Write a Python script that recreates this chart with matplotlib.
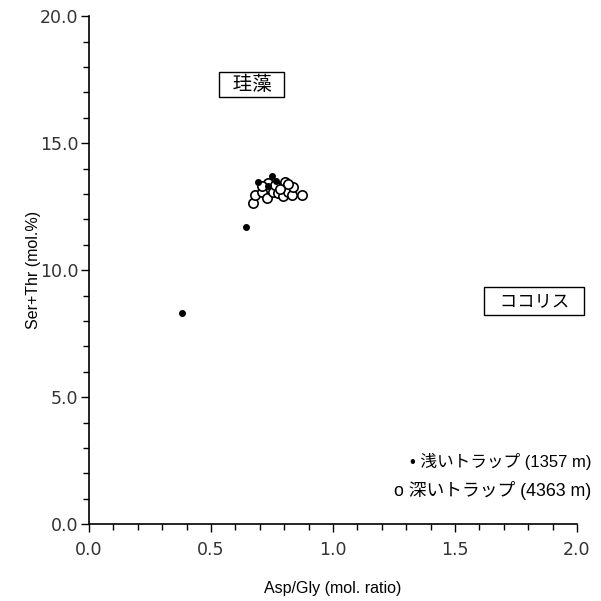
import matplotlib.pyplot as plt
from matplotlib.ticker import MultipleLocator, FormatStrFormatter

# shallow trap (1357 m), filled dots
shallow_x = [0.381, 0.643, 0.693, 0.750, 0.765, 0.735]
shallow_y = [8.31, 11.69, 13.46, 13.70, 13.50, 13.30]

# deep trap (4363 m), open circles
deep_x = [0.672, 0.680, 0.709, 0.730, 0.734, 0.754, 0.762, 0.775, 0.795,
          0.803, 0.795, 0.816, 0.832, 0.836, 0.873, 0.709, 0.815, 0.782]
deep_y = [12.64, 12.95, 13.07, 12.83, 13.43, 13.07, 13.35, 13.03, 13.23,
          13.46, 12.91, 13.07, 12.95, 13.27, 12.95, 13.31, 13.40, 13.20]

jp = ["Liberation Sans", "Noto Sans CJK JP"]

fig = plt.figure(figsize=(6.01, 6.01), dpi=100)
ax = fig.add_axes([0.148, 0.128, 0.812, 0.845])

ax.scatter(deep_x, deep_y, s=45, facecolor="white", edgecolor="black",
           linewidth=1.2, zorder=3)
ax.scatter(shallow_x, shallow_y, s=16, color="black", zorder=4)

ax.set_xlim(0, 2.0)
ax.set_ylim(0, 20.0)
ax.xaxis.set_major_locator(MultipleLocator(0.5))
ax.xaxis.set_minor_locator(MultipleLocator(0.1))
ax.yaxis.set_major_locator(MultipleLocator(5))
ax.yaxis.set_minor_locator(MultipleLocator(1))
ax.xaxis.set_major_formatter(FormatStrFormatter("%.1f"))
ax.yaxis.set_major_formatter(FormatStrFormatter("%.1f"))
ax.tick_params(which="major", direction="out", length=6, width=1,
               labelsize=12.5, labelcolor="#333333")
ax.tick_params(axis="x", which="major", pad=6)
ax.tick_params(axis="y", which="major", pad=1.5)
ax.tick_params(which="minor", direction="out", length=4, width=1)
for lab in ax.get_xticklabels() + ax.get_yticklabels():
    lab.set_family("DejaVu Sans")

for s in ["top", "right"]:
    ax.spines[s].set_visible(False)
for s in ["left", "bottom"]:
    ax.spines[s].set_linewidth(1.2)

ax.set_xlabel("Asp/Gly (mol. ratio)", family=jp, fontsize=11.5, labelpad=16)
ax.set_ylabel("Ser+Thr (mol.%)", family=jp, fontsize=11.5, labelpad=-1)

ax.text(0.668, 17.3, "\u2002珪藻\u2002", family=jp, fontsize=14,
        ha="center", va="center",
        bbox=dict(boxstyle="square,pad=0.17", facecolor="white",
                  edgecolor="black", linewidth=1))
ax.text(1.824, 8.78, "\u2002ココリス\u2002", family=jp, fontsize=12.5,
        ha="center", va="center",
        bbox=dict(boxstyle="square,pad=0.38", facecolor="white",
                  edgecolor="black", linewidth=1))

ax.text(1.03, 0.124, "• 浅いトラップ (1357 m)", transform=ax.transAxes,
        family=jp, fontsize=12, ha="right", va="center")
ax.text(1.03, 0.067, "o 深いトラップ (4363 m)", transform=ax.transAxes,
        family=jp, fontsize=12.8, ha="right", va="center")

fig.savefig("out.png", dpi=100)
